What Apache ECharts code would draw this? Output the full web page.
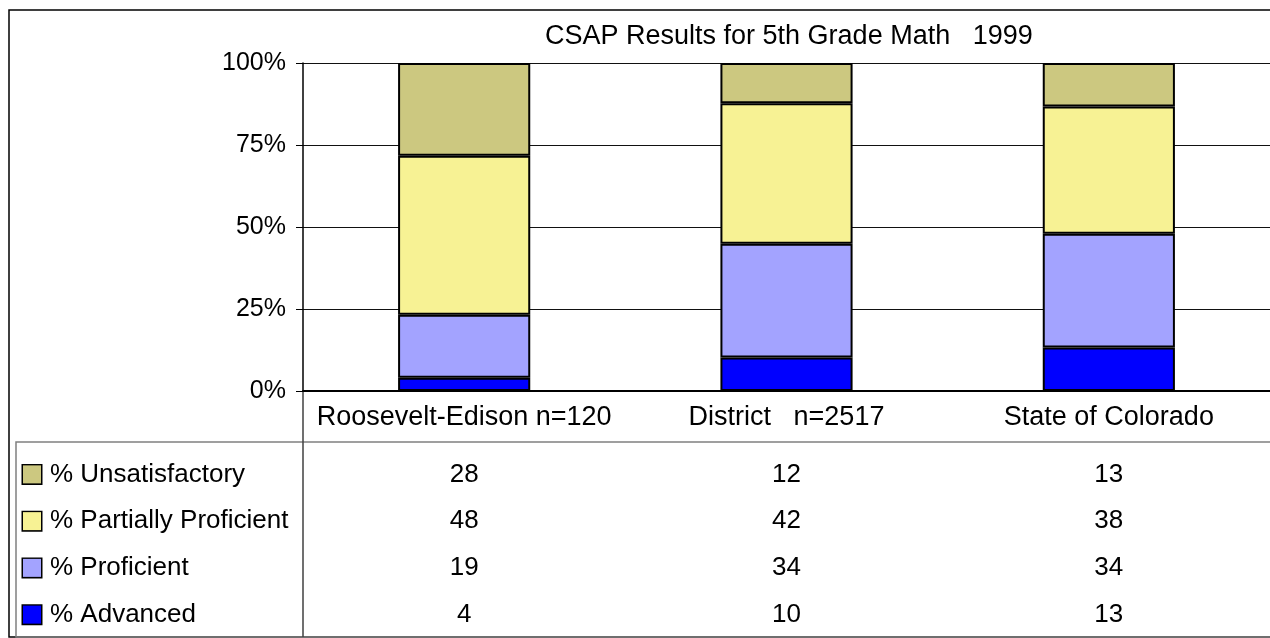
<!DOCTYPE html>
<html>
<head>
<meta charset="utf-8">
<script src="https://cdn.jsdelivr.net/npm/echarts@6/dist/echarts.min.js"></script>
<style>
  html, body { margin: 0; padding: 0; background: #fff; }
  #main { width: 1270px; height: 638px; }
</style>
</head>
<body>
<div id="main"></div>
<script>
// 学校 / 学区 / 州
var categories = ['Roosevelt-Edison n=120', 'District   n=2517', 'State of Colorado'];
// 各等级人数百分比（表格里显示的原始数）
var advanced = [4, 10, 13];
var proficient = [19, 34, 34];
var partially = [48, 42, 38];
var unsatisfactory = [28, 12, 13];
// 表格行名（从下往上）
var rowNames = ['% Advanced', '% Proficient', '% Partially Proficient', '% Unsatisfactory'];
var yTicks = ['0%', '25%', '50%', '75%', '100%'];

var colors = ['#0000FF', '#A3A3FF', '#F7F294', '#CCC880'];
var rows = [advanced, proficient, partially, unsatisfactory];

// 100%堆积：按每列总数归一
var totals = categories.map(function (c, i) {
    return rows.reduce(function (s, r) { return s + r[i]; }, 0);
});

var seriesArr = [];
rows.forEach(function (r, k) {
    seriesArr.push({
        name: rowNames[k],
        type: 'bar',
        stack: 'all',
        barWidth: '41%',
        xAxisIndex: 0,
        yAxisIndex: 0,
        itemStyle: { color: colors[k], borderColor: '#000', borderWidth: 2 },
        data: r.map(function (v, i) { return v / totals[i]; })
    });
});

// 数据表格里的数字
var cellData = [];
rows.forEach(function (r, k) {
    r.forEach(function (v, i) { cellData.push([i, k, v]); });
});
seriesArr.push({
    type: 'scatter',
    xAxisIndex: 1,
    yAxisIndex: 1,
    symbolSize: 1,
    itemStyle: { color: '#fff', opacity: 1 },
    label: {
        show: true,
        position: 'inside',
        color: '#000',
        opacity: 1,
        textBorderWidth: 0,
        fontSize: 26,
        formatter: function (p) { return String(p.data[2]); }
    },
    emphasis: { disabled: true },
    data: cellData
});

var rich = { t: { fontSize: 26, color: '#000', padding: [0, 0, 0, 9] } };
colors.forEach(function (c, k) {
    rich['k' + k] = { width: 18, height: 18, backgroundColor: c, borderColor: '#000', borderWidth: 1.5 };
});

var chart = echarts.init(document.getElementById('main'));
chart.setOption({
    backgroundColor: '#fff',
    animation: false,
    textStyle: { fontFamily: 'Liberation Sans, Arial, sans-serif' },
    title: {
        text: 'CSAP Results for 5th Grade Math   1999',
        left: 540,
        top: 18,
        textStyle: { fontSize: 27, fontWeight: 'normal', color: '#000' }
    },
    grid: [
        { left: 303, right: -4, top: 63, bottom: 247, containLabel: false },
        { left: 303, right: -4, top: 451, bottom: -4, containLabel: false }
    ],
    xAxis: [
        {
            type: 'category',
            gridIndex: 0,
            data: categories,
            axisLine: { lineStyle: { color: '#000', width: 2 } },
            axisTick: { show: false },
            axisLabel: { color: '#000', fontSize: 27, margin: 13, interval: 0 }
        },
        {
            type: 'category',
            gridIndex: 1,
            data: categories,
            show: false
        }
    ],
    yAxis: [
        {
            type: 'value',
            gridIndex: 0,
            min: 0,
            max: 1,
            interval: 0.25,
            axisLine: { show: true, lineStyle: { color: '#000', width: 1.5 } },
            axisTick: { show: true, length: 7, lineStyle: { color: '#000' } },
            axisLabel: {
                color: '#000',
                fontSize: 25,
                margin: 17,
                formatter: function (v) { return yTicks[Math.round(v * 4)]; }
            },
            splitLine: { lineStyle: { color: '#111', width: 1 } }
        },
        {
            type: 'category',
            gridIndex: 1,
            data: rowNames,
            axisLine: { show: false },
            axisTick: { show: false },
            splitLine: { show: false },
            axisLabel: {
                align: 'left',
                margin: 280,
                formatter: function (v, i) { return '{k' + i + '|}{t|' + v + '}'; },
                rich: rich
            }
        }
    ],
    graphic: [
        // 外框
        { type: 'rect', shape: { x: 9, y: 10, width: 1300, height: 627 }, style: { fill: null, stroke: '#000', lineWidth: 1.5 }, silent: true },
        // 表格框
        { type: 'rect', shape: { x: 16, y: 442, width: 1300, height: 195 }, style: { fill: null, stroke: '#808080', lineWidth: 1.5 }, silent: true },
        { type: 'line', shape: { x1: 303, y1: 391, x2: 303, y2: 637 }, style: { stroke: '#404040', lineWidth: 1.5 }, silent: true }
    ],
    series: seriesArr
});
</script>
</body>
</html>
